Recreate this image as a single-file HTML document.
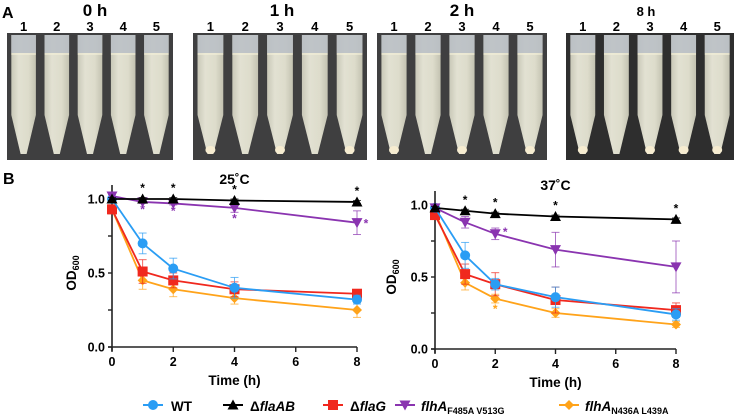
<!DOCTYPE html>
<html><head><meta charset="utf-8"><style>
html,body{margin:0;padding:0;background:#fff;}
svg{display:block;font-family:"Liberation Sans",Arial,sans-serif;}
</style></head><body>
<svg id="fig" width="735" height="416" viewBox="0 0 735 416">
<defs>
<linearGradient id="tubeg" x1="0" x2="1" y1="0" y2="0">
<stop offset="0" stop-color="#c9c8b8"/><stop offset="0.3" stop-color="#e2e1d2"/><stop offset="0.7" stop-color="#dddccb"/><stop offset="1" stop-color="#c3c2b1"/>
</linearGradient>
</defs>
<text x="2" y="18" font-size="16" font-weight="bold">A</text>
<text x="3" y="184" font-size="16" font-weight="bold">B</text>
<g id="photos"></g>
<g id="charts"></g>
<g id="legend"></g>
</svg>
<script>
// ---- chart data ----
const times = [0, 1, 2, 4, 8];
const xTicks = [0, 2, 4, 6, 8];
const yTickLabels = ["0.0", "0.5", "1.0"];
const yTicks = [0, 0.5, 1.0];
const seriesNames = ["WT", "flaAB", "flaG", "flhA-F485A", "flhA-N436A"];
const seriesColors = ["#2a9df4", "#000000", "#f0281e", "#8a34b0", "#ffa31a"];
const wt25 = [1.0, 0.70, 0.53, 0.40, 0.32];
const flaAB25 = [1.0, 1.0, 1.0, 0.99, 0.98];
const flaG25 = [0.93, 0.51, 0.45, 0.39, 0.36];
const f485_25 = [1.02, 0.98, 0.97, 0.94, 0.84];
const n436_25 = [0.93, 0.45, 0.39, 0.33, 0.25];
const wt25err = [0.01, 0.07, 0.07, 0.07, 0.03];
const flaAB25err = [0.01, 0.01, 0.01, 0.01, 0.01];
const flaG25err = [0.03, 0.08, 0.05, 0.05, 0.02];
const f485_25err = [0.01, 0.01, 0.01, 0.03, 0.08];
const n436_25err = [0.02, 0.06, 0.05, 0.04, 0.05];
const wt37 = [0.98, 0.65, 0.45, 0.36, 0.24];
const flaAB37 = [0.98, 0.96, 0.94, 0.92, 0.90];
const flaG37 = [0.93, 0.52, 0.45, 0.34, 0.27];
const f485_37 = [0.98, 0.88, 0.80, 0.69, 0.57];
const n436_37 = [0.95, 0.46, 0.35, 0.25, 0.17];
const wt37err = [0.02, 0.09, 0.04, 0.07, 0.04];
const flaAB37err = [0.01, 0.01, 0.01, 0.01, 0.01];
const flaG37err = [0.03, 0.07, 0.08, 0.09, 0.05];
const f485_37err = [0.02, 0.04, 0.04, 0.12, 0.18];
const n436_37err = [0.02, 0.05, 0.03, 0.03, 0.02];

const NS = "http://www.w3.org/2000/svg";
function mk(tag, attrs, parent) {
  const e = document.createElementNS(NS, tag);
  for (const k in attrs) e.setAttribute(k, attrs[k]);
  parent.appendChild(e);
  return e;
}

// ---- photos ----
const photos = document.getElementById("photos");
const panels = [
  {x: 7, w: 166, title: "0 h", tx: 95, fs: 17, pellet: [0,0,0,0,0]},
  {x: 193, w: 174, title: "1 h", tx: 282, fs: 17, pellet: [1,0,1,0,1]},
  {x: 377, w: 170, title: "2 h", tx: 462, fs: 17, pellet: [1,0,1,0,1]},
  {x: 566, w: 168, title: "8 h", tx: 646, fs: 13, pellet: [1,0,1,1,1]}
];
panels.forEach((p, pi) => {
  const g = mk("g", {}, photos);
  
  
  const t = mk("text", {x: p.tx, y: 16, "font-size": p.fs, "font-weight": "bold", "text-anchor": "middle"}, g);
  t.textContent = p.title;
  
  
  mk("rect", {x: p.x, y: 33, width: p.w, height: 127, fill: pi === 3 ? "#2e2e2e" : "#3f3f40"}, g);
  const sp = p.w / 5;
  for (let i = 0; i < 5; i++) {
    const cx = p.x + sp * (i + 0.5);
    const num = mk("text", {x: cx, y: 31, "font-size": 13, "font-weight": "bold", "text-anchor": "middle"}, g);
    num.textContent = String(i + 1);
    
    
    const hw = sp * 0.37;
    const tube = mk("path", {d: `M${cx-hw},35 L${cx+hw},35 L${cx+hw},115 L${cx+3},154 L${cx-3},154 L${cx-hw},115 Z`, fill: "url(#tubeg)"}, g);
    
    
    mk("rect", {x: cx - hw, y: 35, width: 2 * hw, height: 18, fill: "#b9bec6", opacity: 0.85}, g);
    mk("line", {x1: cx - hw, x2: cx + hw, y1: 54, y2: 54, stroke: "#f3efd8", "stroke-width": 1.2}, g);
    if (p.pellet[i]) mk("ellipse", {cx: cx, cy: 150, rx: 5, ry: 4, fill: "#f6ecd0"}, g);
  }
});

// ---- charts ----
const charts = document.getElementById("charts");
const chartDefs = [
  {title: "25˚C", x0: 112, x8: 357, y0: 347, y1: 199, top: 185, ylab: 72,
   vals: [wt25, flaAB25, flaG25, f485_25, n436_25], errs: [wt25err, flaAB25err, flaG25err, f485_25err, n436_25err],
   stars: [[1,1.0,1],[2,1.0,1],[4,1.0,1],[8,1.0,1],[1,1.0,3],[2,1.0,3],[4,1.0,3],[8,1.0,3]]},
  {title: "37˚C", x0: 435, x8: 676, y0: 349, y1: 205, top: 191, ylab: 392,
   vals: [wt37, flaAB37, flaG37, f485_37, n436_37], errs: [wt37err, flaAB37err, flaG37err, f485_37err, n436_37err],
   stars: [[1,1.0,1],[2,1.0,1],[4,1.0,1],[8,1.0,1],[2,1.0,3],[2,1.0,4]]}
];
const drawOrder = [4, 2, 0, 3, 1];
function marker(g, type, x, y, color) {
  let m;
  if (type === 0) m = mk("circle", {cx: x, cy: y, r: 5, fill: color}, g);
  else if (type === 1) m = mk("path", {d: `M${x},${y-5.5} L${x+5.5},${y+4.5} L${x-5.5},${y+4.5} Z`, fill: color}, g);
  else if (type === 2) m = mk("rect", {x: x - 5, y: y - 5, width: 10, height: 10, fill: color}, g);
  else if (type === 3) m = mk("path", {d: `M${x-5.5},${y-4.5} L${x+5.5},${y-4.5} L${x},${y+5.5} Z`, fill: color}, g);
  else m = mk("path", {d: `M${x},${y-5} L${x+5},${y} L${x},${y+5} L${x-5},${y} Z`, fill: color}, g);
  return m;
}
chartDefs.forEach((c, ci) => {
  const sx = v => c.x0 + (c.x8 - c.x0) * v / 8;
  const sy = v => c.y0 - (c.y0 - c.y1) * v;
  const g = mk("g", {}, charts);
  
  
  const tt = mk("text", {x: (c.x0 + c.x8) / 2, y: ci === 0 ? 184 : 190, "font-size": 14, "font-weight": "bold", "text-anchor": "middle"}, g);
  tt.textContent = c.title;
  
  
  mk("line", {x1: c.x0, x2: c.x0, y1: c.top, y2: c.y0 + 4, stroke: "#222", "stroke-width": 1.6}, g);
  mk("line", {x1: c.x0 - 4, x2: c.x8, y1: c.y0, y2: c.y0, stroke: "#222", "stroke-width": 1.6}, g);
  for (let v = 0; v <= 1.0001; v += 0.25) {
    mk("line", {x1: c.x0 - 4, x2: c.x0, y1: sy(v), y2: sy(v), stroke: "#222", "stroke-width": 1.4}, g);
  }
  yTicks.forEach((v, i) => {
    const t = mk("text", {x: c.x0 - 7, y: sy(v) + 4.5, "font-size": 12.5, "font-weight": "bold", "text-anchor": "end"}, g);
    t.textContent = yTickLabels[i];
    
    
  });
  xTicks.forEach(v => {
    mk("line", {x1: sx(v), x2: sx(v), y1: c.y0, y2: c.y0 + 5, stroke: "#222", "stroke-width": 1.4}, g);
    const t = mk("text", {x: sx(v), y: c.y0 + 19, "font-size": 12.5, "font-weight": "bold", "text-anchor": "middle"}, g);
    t.textContent = String(v);
    
    
  });
  const xl = mk("text", {x: (c.x0 + c.x8) / 2, y: c.y0 + 38, "font-size": 13.5, "font-weight": "bold", "text-anchor": "middle"}, g);
  xl.textContent = "Time (h)";
  
  
  const yl = mk("text", {transform: `translate(${c.ylab + 4},${(c.y0 + c.y1) / 2}) rotate(-90)`, "font-size": 13.5, "font-weight": "bold", "text-anchor": "middle"}, g);
  yl.innerHTML = 'OD<tspan font-size="9" dy="3">600</tspan>';
  
  
  drawOrder.forEach(s => {
    const col = seriesColors[s];
    const sg = mk("g", {}, g);
    
    
    const vals = c.vals[s], errs = c.errs[s];
    const pts = times.map((t, i) => `${sx(t)},${sy(vals[i])}`).join(" ");
    mk("polyline", {points: pts, fill: "none", stroke: col, "stroke-width": 1.8}, sg);
    times.forEach((t, i) => {
      const x = sx(t), ya = sy(vals[i] + errs[i]), yb = sy(vals[i] - errs[i]);
      mk("line", {x1: x, x2: x, y1: ya, y2: yb, stroke: col, "stroke-width": 1, opacity: 0.7}, sg);
      mk("line", {x1: x - 4, x2: x + 4, y1: ya, y2: ya, stroke: col, "stroke-width": 1, opacity: 0.7}, sg);
      mk("line", {x1: x - 4, x2: x + 4, y1: yb, y2: yb, stroke: col, "stroke-width": 1, opacity: 0.7}, sg);
      const m = marker(sg, s, x, sy(vals[i]), col);
      
      
    });
  });
  c.stars.forEach(st => {
    const s = st[2], t = st[0];
    const i = times.indexOf(t);
    const v = c.vals[s][i];
    let x = sx(t), y;
    if (s === 1) y = sy(v) - 7;
    else if (ci === 0 && t === 8) { x += 9; y = sy(v) + 5; }
    else if (ci === 1 && s === 3) { x += 10; y = sy(v) + 2; }
    else y = sy(v - c.errs[s][i]) + 10;
    const tx = mk("text", {x: x, y: y, "font-size": 12, "font-weight": "bold", "text-anchor": "middle", fill: seriesColors[s]}, g);
    tx.textContent = "*";
    
    
  });
});

// ---- legend ----
const legend = document.getElementById("legend");
const legItems = [
  {lx: 143, tx: 171, html: 'WT'},
  {lx: 223, tx: 250, html: 'Δ<tspan font-style="italic">flaAB</tspan>'},
  {lx: 323, tx: 350, html: 'Δ<tspan font-style="italic">flaG</tspan>'},
  {lx: 395, tx: 421, html: '<tspan font-style="italic">flhA</tspan><tspan font-size="9" dy="3">F485A V513G</tspan>'},
  {lx: 559, tx: 585, html: '<tspan font-style="italic">flhA</tspan><tspan font-size="9" dy="3">N436A L439A</tspan>'}
];
legItems.forEach((it, s) => {
  const g = mk("g", {}, legend);
  
  
  mk("line", {x1: it.lx, x2: it.lx + 20, y1: 405, y2: 405, stroke: seriesColors[s], "stroke-width": 2}, g);
  marker(g, s, it.lx + 10, 405, seriesColors[s]);
  const t = mk("text", {x: it.tx, y: 411, "font-size": 13.5, "font-weight": "bold"}, g);
  t.innerHTML = it.html;
});
</script>
</body></html>
